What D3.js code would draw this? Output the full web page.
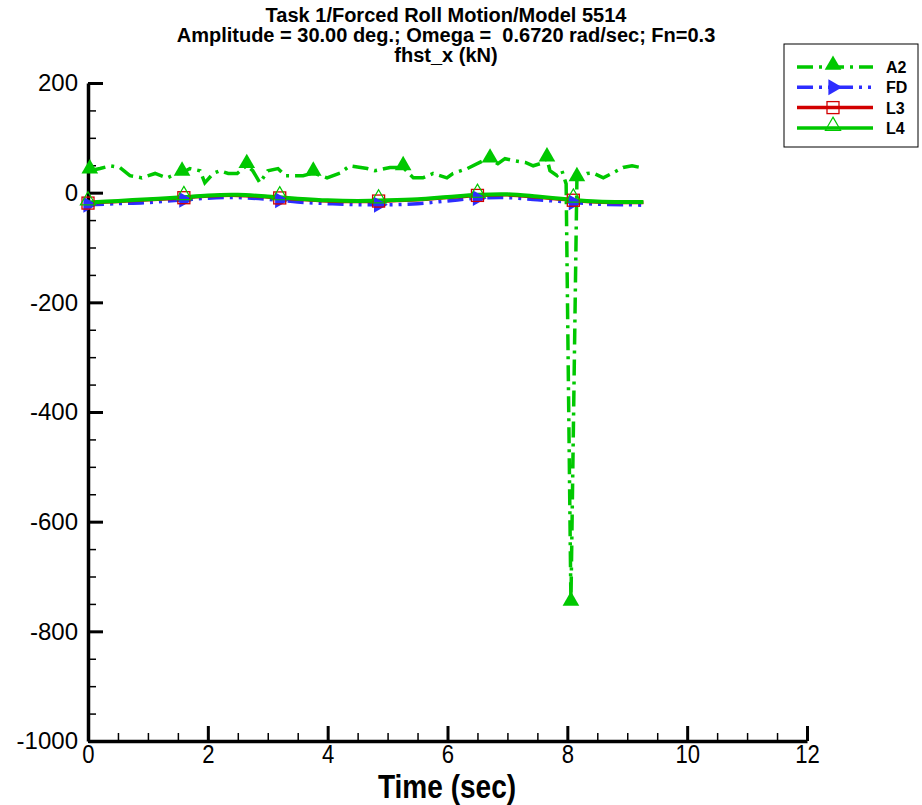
<!DOCTYPE html>
<html><head><meta charset="utf-8">
<script src="https://cdn.jsdelivr.net/npm/d3@7"></script>
<style>body{margin:0;background:#fff;} svg{display:block;font-family:"Liberation Sans",Arial,sans-serif;}</style>
</head><body>
<svg id="c" width="922" height="805"></svg>
<script>
const titleLines = ["Task 1/Forced Roll Motion/Model 5514",
  "Amplitude = 30.00 deg.; Omega =  0.6720 rad/sec; Fn=0.3",
  "fhst_x (kN)"];
const xLabel = "Time (sec)";
const xTicks = [0,2,4,6,8,10,12];
const yTicks = [200,0,-200,-400,-600,-800,-1000];
const seriesNames = ["A2","FD","L3","L4"];

const a2T = [0.03,0.2,0.37,0.53,0.70,0.90,1.12,1.32,1.49,1.57,1.70,1.87,1.95,2.09,2.20,2.34,2.49,2.65,2.75,2.87,3.00,3.17,3.29,3.42,3.59,3.76,3.99,4.21,4.37,4.66,4.79,5.04,5.26,5.43,5.59,5.76,5.99,6.09,6.33,6.59,6.71,6.84,6.96,7.13,7.30,7.43,7.55,7.66,7.71,7.83,7.91,7.98,8.06,8.16,8.33,8.43,8.60,8.76,8.93,9.08,9.22];
const a2V = [40,44,49,46,31,27,35,27,35,36,44,40,18,35,40,35,35,50,40,18,40,44,31,31,31,36,27,36,49,44,40,46,46,27,27,35,27,35,44,58,60,53,62,58,55,49,53,62,40,31,40,16,-748,26,35,36,27,36,46,49,46];
const a2MarkerIdx = [0,9,17,25,32,40,47,52,53];

const smoothT = [0,0.5,1.0,1.5,2.0,2.5,3.0,3.5,4.0,4.5,5.0,5.5,6.0,6.5,7.0,7.5,8.0,8.5,9.0,9.27];
const fdV = [-22,-20,-18,-14,-10,-9,-12,-17,-20,-22,-22,-20,-15,-10,-9,-13,-17,-21,-22,-23];
const l3V = [-19,-16,-13,-10,-6,-5,-8,-12,-15,-16,-15,-13,-9,-5,-4,-8,-13,-17,-18,-18];
const l4V = [-18,-15,-12,-9,-5,-4,-7,-11,-14,-15,-14,-12,-8,-4,-3,-7,-12,-16,-17,-17];
const markerT = [0,1.6,3.2,4.85,6.5,8.1];

const GREEN="#00c800", BLUE="#2d2dff", RED="#d20000";
const svg = d3.select("#c");
const x = d3.scaleLinear().domain([0,12]).range([88,807]);
const y = d3.scaleLinear().domain([-1000,200]).range([741,83]);

// title
svg.append("g").selectAll("text").data(titleLines).join("text")
  .attr("x",446).attr("y",(d,i)=>22+i*20).attr("text-anchor","middle")
  .style("white-space","pre")
  .attr("font-weight","bold").attr("font-size",20).text(d=>d);

// axes
const yMinor = d3.range(-1000,201,50).filter(v=>v%200!==0);
const xMinor = d3.range(0,12.01,0.5).filter(v=>Math.abs(v%2)>1e-6);
svg.append("g").attr("transform","translate(88,0)")
  .call(d3.axisLeft(y).tickValues(yMinor).tickSize(-8).tickFormat(""))
  .call(g=>{g.select(".domain").remove(); g.selectAll("line").attr("stroke-width",1.5);});
svg.append("g").attr("transform","translate(0,741)")
  .call(d3.axisBottom(x).tickValues(xMinor).tickSize(-8).tickFormat(""))
  .call(g=>{g.select(".domain").remove(); g.selectAll("line").attr("stroke-width",1.5);});
const ya = svg.append("g").attr("transform","translate(88,0)")
  .call(d3.axisLeft(y).tickValues(yTicks).tickSize(-15).tickSizeOuter(0).tickPadding(10).tickFormat(d=>String(d)));
ya.select(".domain").attr("stroke-width",3.5);
ya.selectAll(".tick line").attr("stroke-width",3);
ya.selectAll("text").attr("font-size",24).attr("font-family","Liberation Sans, Arial").attr("fill","#000");
const xa = svg.append("g").attr("transform","translate(0,741)")
  .call(d3.axisBottom(x).tickValues(xTicks).tickSize(-15).tickSizeOuter(0).tickPadding(4).tickFormat(d=>String(d)));
xa.select(".domain").attr("stroke-width",3.5);
xa.selectAll(".tick line").attr("stroke-width",3);
xa.selectAll("text").attr("font-size",26).attr("font-family","Liberation Sans, Arial").attr("fill","#000")
  .attr("transform","scale(0.85,1)");
svg.append("text").attr("transform","translate(447,798) scale(0.85,1)").attr("text-anchor","middle")
  .attr("font-weight","bold").attr("font-size",33).text(xLabel);

// lines
const line = d3.line().x(d=>x(d[0])).y(d=>y(d[1]));
const a2 = a2T.map((t,i)=>[t,a2V[i]]);
const fd = smoothT.map((t,i)=>[t,fdV[i]]);
const l3 = smoothT.map((t,i)=>[t,l3V[i]]);
const l4 = smoothT.map((t,i)=>[t,l4V[i]]);
const lineS = d3.line().x(d=>x(d[0])).y(d=>y(d[1])).curve(d3.curveCatmullRom);
const interp = (arr,t)=>{ for(let i=0;i<arr.length-1;i++){ if(t>=arr[i][0]&&t<=arr[i+1][0]){const f=(t-arr[i][0])/(arr[i+1][0]-arr[i][0]);return arr[i][1]+f*(arr[i+1][1]-arr[i][1]);}} return arr[arr.length-1][1]; };

const DASH = "16,6,3,6";
const DASH2 = "16,6,3,6,3,6";
svg.append("path").datum(fd).attr("d",lineS).attr("fill","none").attr("stroke",BLUE).attr("stroke-width",3.5).attr("stroke-dasharray",DASH2);
svg.append("path").datum(l3).attr("d",lineS).attr("fill","none").attr("stroke",RED).attr("stroke-width",3.5);
svg.append("path").datum(l4).attr("d",lineS).attr("fill","none").attr("stroke",GREEN).attr("stroke-width",4);
svg.append("path").datum(a2).attr("d",line).attr("fill","none").attr("stroke",GREEN).attr("stroke-width",3.5).attr("stroke-dasharray",DASH);

const tri = d3.symbol().type(d3.symbolTriangle);
function drawMarker(g, name, cx, cy){
  if(name==="A2"){
    g.append("path").attr("d",tri.size(120)()).attr("transform",`translate(${cx},${cy-2})`).attr("fill",GREEN);
  } else if(name==="FD"){
    g.append("path").attr("d",tri.size(110)()).attr("transform",`translate(${cx},${cy}) rotate(90)`).attr("fill",BLUE);
  } else if(name==="L3"){
    g.append("rect").attr("x",cx-6).attr("y",cy-6).attr("width",12).attr("height",12).attr("fill","none").attr("stroke",RED).attr("stroke-width",1.3);
  } else {
    g.append("path").attr("d",tri.size(100)()).attr("transform",`translate(${cx},${cy-2})`).attr("fill","none").attr("stroke",GREEN).attr("stroke-width",1.2);
  }
}
const mg = svg.append("g");
markerT.forEach(t=>drawMarker(mg,"FD",x(t),y(interp(fd,t))));
markerT.forEach(t=>drawMarker(mg,"L3",x(t),y(interp(l3,t))));
markerT.forEach(t=>drawMarker(mg,"L4",x(t),y(interp(l4,t))));
a2MarkerIdx.forEach(i=>drawMarker(mg,"A2",x(a2[i][0]),y(a2[i][1])));

// legend
const lg = svg.append("g");
lg.append("rect").attr("x",784).attr("y",44).attr("width",134).attr("height",103).attr("fill","#fff").attr("stroke","#000").attr("stroke-width",1);
const legStyle = {A2:[GREEN,DASH,3.5],FD:[BLUE,DASH2,3.5],L3:[RED,null,3.5],L4:[GREEN,null,3.5]};
seriesNames.forEach((n,i)=>{
  const yy = 67 + i*20.3;
  const s = legStyle[n];
  const l = lg.append("line").attr("x1",797).attr("x2",873).attr("y1",yy).attr("y2",yy).attr("stroke",s[0]).attr("stroke-width",s[2]);
  if(s[1]) l.attr("stroke-dasharray",s[1]);
  drawMarker(lg,n,833,yy);
  lg.append("text").attr("x",886).attr("y",yy+6).attr("font-weight","bold").attr("font-size",16).text(n);
});
</script>
</body></html>
